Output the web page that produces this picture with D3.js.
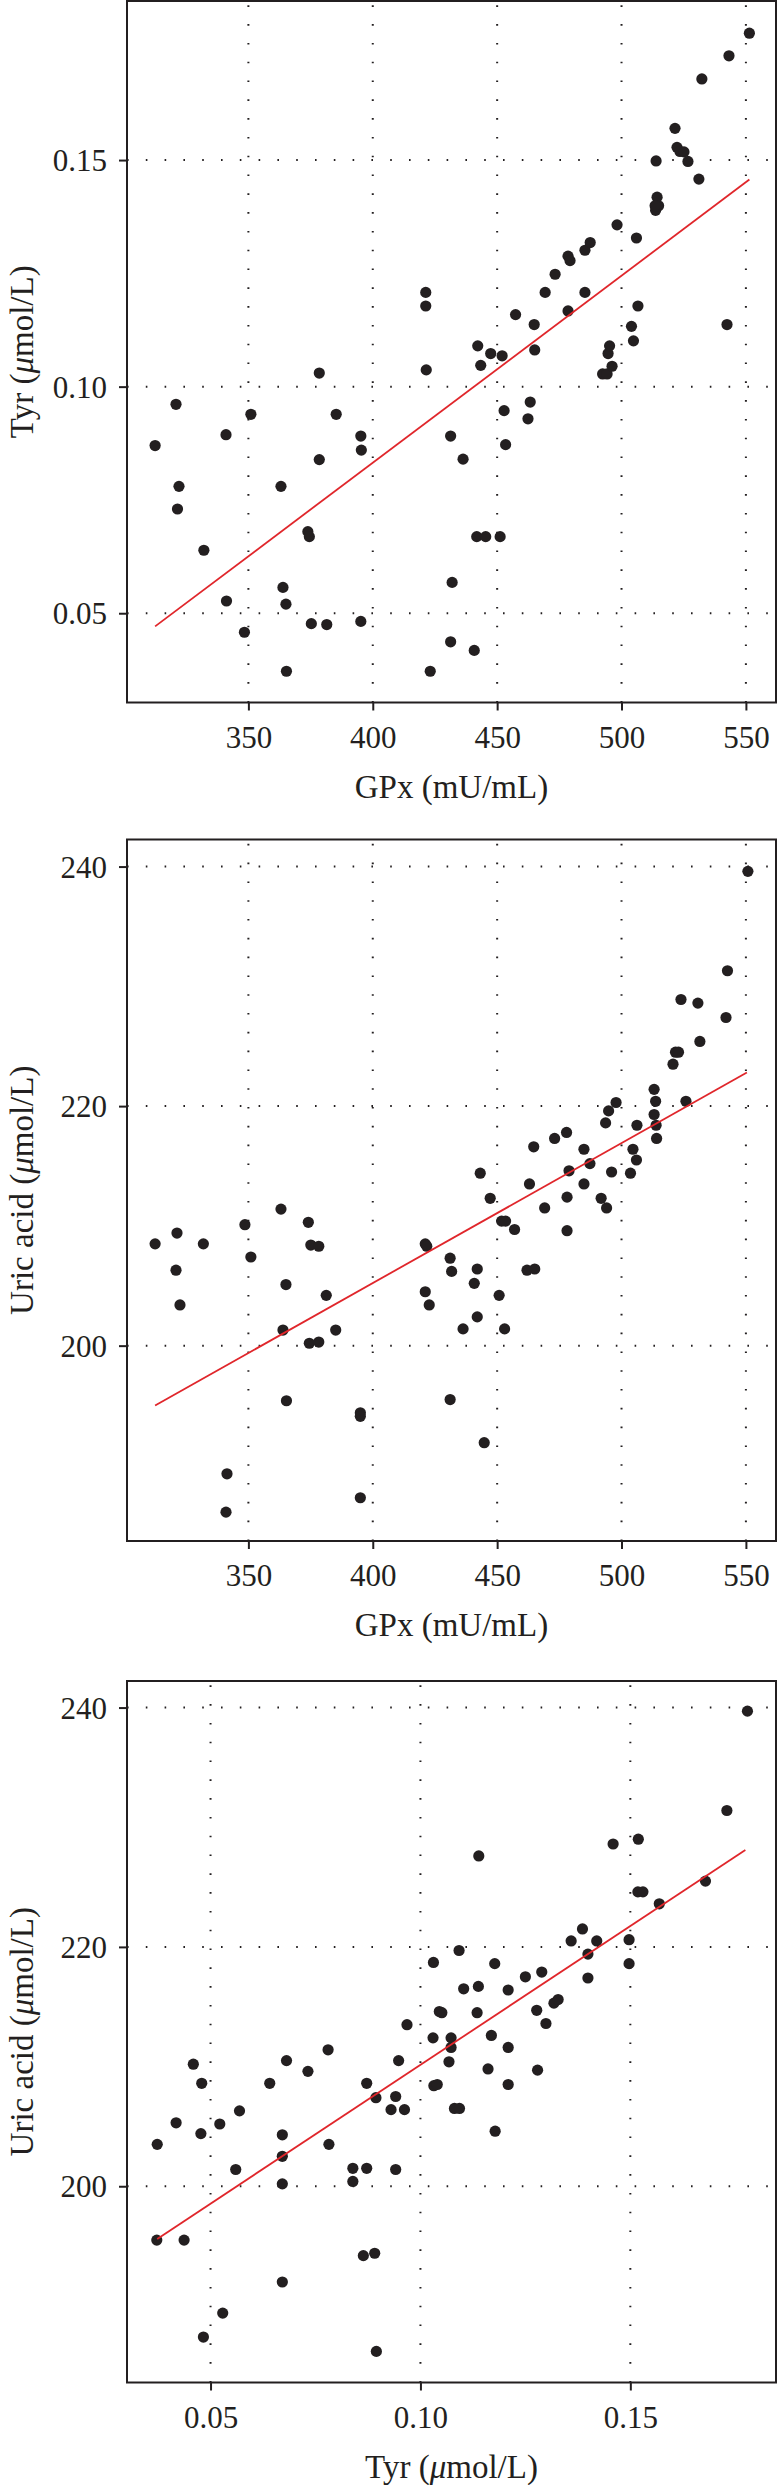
<!DOCTYPE html>
<meta charset="UTF-8">
<script src="https://d3js.org/d3.v7.min.js"></script>
<style>
  body { margin: 0; background: #fff; }
  text { font-family: "Liberation Serif", "DejaVu Serif", serif; fill: #231f20; }
</style>
<svg id="chart" width="777" height="2485"></svg>
<script>

// Panel 1: GPx vs Tyr
var gpx1 = [312.5, 320.9, 322.1, 321.5, 332.1, 341.0, 341.2, 348.4, 351.0, 363.1,
            363.9, 365.1, 365.3, 373.9, 374.5, 375.3, 378.5, 378.5, 381.5, 385.3,
            395.2, 395.4, 395.2, 421.3, 421.3, 421.5, 423.1, 431.3, 431.9, 431.3,
            436.3, 440.8, 442.2, 443.4, 441.8, 445.4, 447.4, 452.0, 452.8, 453.4,
            451.2, 457.4, 464.9, 465.1, 463.3, 462.4, 469.3, 473.3, 478.5, 479.3,
            478.5, 485.3, 487.4, 485.3, 498.2, 492.4, 494.2, 494.6, 495.2, 496.2,
            504.0, 504.8, 506.0, 506.6, 513.9, 514.3, 513.7, 514.9, 513.5, 521.5,
            522.3, 523.5, 525.1, 526.7, 531.1, 532.3, 542.4, 543.2, 551.4];
var tyr1 = [0.0870, 0.0961, 0.0780, 0.0730, 0.0639, 0.0894, 0.0527, 0.0458, 0.0939, 0.0780,
            0.0557, 0.0520, 0.0372, 0.0680, 0.0669, 0.0477, 0.1030, 0.0839, 0.0475, 0.0939,
            0.0891, 0.0860, 0.0482, 0.1208, 0.1178, 0.1037, 0.0372, 0.0891, 0.0568, 0.0437,
            0.0840, 0.0418, 0.1090, 0.1047, 0.0669, 0.0669, 0.1073, 0.1068, 0.0947, 0.0872,
            0.0669, 0.1159, 0.1137, 0.1081, 0.0966, 0.0929, 0.1208, 0.1248, 0.1288, 0.1278,
            0.1167, 0.1301, 0.1318, 0.1208, 0.1357, 0.1028, 0.1028, 0.1073, 0.1090, 0.1045,
            0.1133, 0.1101, 0.1328, 0.1178, 0.1498, 0.1418, 0.1389, 0.1399, 0.1399, 0.1570,
            0.1528, 0.1519, 0.1518, 0.1497, 0.1458, 0.1679, 0.1137, 0.1730, 0.1780];
var fit1 = [[312.5, 0.0471], [551.4, 0.1457]];

// Panel 2: GPx vs uric acid
var gpx2 = [312.5, 321.3, 320.9, 322.5, 331.9, 341.4, 341.0, 348.6, 351.0, 363.1,
            363.9, 365.1, 365.3, 374.1, 375.1, 378.3, 374.5, 378.3, 381.3, 385.1,
            395.0, 395.0, 395.0, 421.1, 421.7, 421.1, 422.7, 431.1, 431.7, 431.1,
            436.3, 440.8, 442.0, 442.0, 443.2, 444.8, 447.2, 450.8, 451.8, 453.4,
            453.0, 457.0, 463.0, 464.7, 462.0, 465.1, 469.1, 473.1, 477.9, 478.9,
            478.1, 478.1, 484.9, 487.3, 484.9, 491.8, 494.0, 493.6, 494.8, 496.0,
            497.8, 503.6, 504.6, 506.0, 506.2, 513.1, 513.7, 513.1, 513.9, 514.1,
            520.7, 521.7, 522.9, 523.9, 525.9, 530.7, 531.5, 542.0, 542.6, 550.8];
var ua2 = [208.5, 209.4, 206.3, 203.4, 208.5, 189.3, 186.1, 210.1, 207.4, 211.4,
           201.3, 205.1, 195.4, 210.3, 208.4, 208.3, 200.2, 200.3, 204.2, 201.3,
           194.4, 194.1, 187.3, 208.5, 208.3, 204.5, 203.4, 207.3, 206.2, 195.5,
           201.4, 205.2, 206.4, 202.4, 214.4, 191.9, 212.3, 204.2, 210.4, 210.4,
           201.4, 209.7, 213.5, 216.6, 206.3, 206.4, 211.5, 217.3, 217.8, 214.6,
           212.4, 209.6, 216.4, 215.2, 213.5, 212.3, 211.5, 218.6, 219.6, 214.5,
           220.3, 214.4, 216.4, 215.5, 218.4, 221.4, 220.4, 219.3, 218.4, 217.3,
           223.5, 224.5, 224.5, 228.9, 220.4, 228.6, 225.4, 227.4, 231.3, 239.6];
var fit2 = [[312.5, 195.0], [550.4, 222.8]];

// Panel 3: Tyr vs uric acid
var tyr3 = [0.0373, 0.0372, 0.0418, 0.0437, 0.0459, 0.0479, 0.0477, 0.0483, 0.0522, 0.0529,
            0.0560, 0.0569, 0.0641, 0.0671, 0.0671, 0.0671, 0.0671, 0.0681, 0.0732, 0.0780,
            0.0782, 0.0839, 0.0839, 0.0872, 0.0872, 0.0864, 0.0891, 0.0894, 0.0895, 0.0930,
            0.0941, 0.0948, 0.0941, 0.0962, 0.0968, 0.1031, 0.1030, 0.1032, 0.1040, 0.1045,
            0.1051, 0.1073, 0.1073, 0.1068, 0.1081, 0.1093, 0.1092, 0.1103, 0.1135, 0.1138,
            0.1139, 0.1161, 0.1169, 0.1177, 0.1178, 0.1209, 0.1209, 0.1209, 0.1250, 0.1277,
            0.1279, 0.1289, 0.1299, 0.1318, 0.1328, 0.1359, 0.1386, 0.1399, 0.1399, 0.1420,
            0.1459, 0.1497, 0.1497, 0.1519, 0.1518, 0.1530, 0.1569, 0.1679, 0.1730, 0.1779];
var ua3 = [203.5, 195.5, 205.3, 195.5, 210.2, 208.6, 204.4, 187.4, 205.2, 189.4,
           201.4, 206.3, 208.6, 204.3, 202.5, 200.2, 192.0, 210.5, 209.6, 211.4,
           203.5, 201.5, 200.4, 201.5, 208.6, 194.2, 194.4, 207.4, 186.2, 206.4,
           207.5, 210.5, 201.4, 206.4, 213.5, 218.7, 212.4, 208.4, 208.5, 214.6,
           214.5, 212.4, 211.6, 210.4, 206.5, 206.5, 219.7, 216.5, 214.5, 216.7,
           227.6, 209.8, 212.6, 218.6, 204.6, 216.4, 211.6, 208.5, 217.5, 214.7,
           209.7, 217.9, 213.6, 215.3, 215.6, 220.5, 221.5, 219.4, 217.4, 220.5,
           228.6, 220.6, 218.6, 229.0, 224.6, 224.6, 223.6, 225.5, 231.4, 239.7];
var fit3 = [[0.0373, 195.6], [0.1774, 228.1]];

var gpxTicks = [350, 400, 450, 500, 550];
var tyrTicks = [0.05, 0.10, 0.15];
var uaTicks = [200, 220, 240];

var svg = d3.select("#chart");
var ink = "#231f20";
var serif = '"Liberation Serif", "DejaVu Serif", serif';

var panels = [
  { xs: gpx1, ys: tyr1, fit: fit1, top: 1, bottom: 702.5,
    xDomain: [301.2, 562.1], yDomain: [0.0303, 0.1851],
    xTicks: gpxTicks, yTicks: tyrTicks, xFmt: d3.format("d"), yFmt: d3.format(".2f"),
    xTitle: ["GPx (mU/mL)"], yTitle: ["Tyr (", "\u03bc", "mol/L)"] },
  { xs: gpx2, ys: ua2, fit: fit2, top: 839.5, bottom: 1541,
    xDomain: [301.2, 562.1], yDomain: [183.69, 242.26],
    xTicks: gpxTicks, yTicks: uaTicks, xFmt: d3.format("d"), yFmt: d3.format("d"),
    xTitle: ["GPx (mU/mL)"], yTitle: ["Uric acid (", "\u03bc", "mol/L)"] },
  { xs: tyr3, ys: ua3, fit: fit3, top: 1681, bottom: 2382.5,
    xDomain: [0.0301, 0.1847], yDomain: [183.6, 242.22],
    xTicks: tyrTicks, yTicks: uaTicks, xFmt: d3.format(".2f"), yFmt: d3.format("d"),
    xTitle: ["Tyr (", "\u03bc", "mol/L)"], yTitle: ["Uric acid (", "\u03bc", "mol/L)"] }
];

var left = 127, right = 776;

// writes a title, the μ part in italics
function addTitle(sel, parts) {
  parts.forEach(function(p, i) {
    sel.append("tspan").text(p).style("font-style", i == 1 ? "italic" : "normal");
  });
}

panels.forEach(function(p) {
  var x = d3.scaleLinear().domain(p.xDomain).range([left, right]);
  var y = d3.scaleLinear().domain(p.yDomain).range([p.bottom, p.top]);
  var g = svg.append("g");

  // dotted grid
  g.selectAll(".hgrid").data(p.yTicks).enter().append("line")
    .attr("x1", left).attr("x2", right)
    .attr("y1", function(d) { return y(d); }).attr("y2", function(d) { return y(d); })
    .attr("stroke", ink).attr("stroke-width", 2)
    .attr("stroke-dasharray", "1.6,17.2");
  g.selectAll(".vgrid").data(p.xTicks).enter().append("line")
    .attr("x1", function(d) { return x(d); }).attr("x2", function(d) { return x(d); })
    .attr("y1", p.bottom).attr("y2", p.top)
    .attr("stroke", ink).attr("stroke-width", 2)
    .attr("stroke-dasharray", "1.6,17.2");

  // axes: ticks + labels outside the frame
  var xAxis = d3.axisBottom(x).tickValues(p.xTicks).tickFormat(p.xFmt)
    .tickSizeInner(8).tickSizeOuter(0).tickPadding(8);
  var yAxis = d3.axisLeft(y).tickValues(p.yTicks).tickFormat(p.yFmt)
    .tickSizeInner(8).tickSizeOuter(0).tickPadding(12);

  var gx = g.append("g").attr("transform", "translate(0," + p.bottom + ")").call(xAxis);
  var gy = g.append("g").attr("transform", "translate(" + left + ",0)").call(yAxis);
  [gx, gy].forEach(function(a) {
    a.attr("font-family", serif).attr("font-size", 31);
    a.select(".domain").remove();
    a.selectAll(".tick line").attr("stroke", ink).attr("stroke-width", 2);
    a.selectAll(".tick text").attr("fill", ink);
  });
  gx.selectAll(".tick text").attr("dy", null).attr("y", 45);
  gy.selectAll(".tick text").attr("dy", "0.34em");

  // frame
  g.append("rect")
    .attr("x", left).attr("y", p.top)
    .attr("width", right - left).attr("height", p.bottom - p.top)
    .attr("fill", "none").attr("stroke", ink).attr("stroke-width", 2);

  // points
  g.selectAll("circle").data(p.xs).enter().append("circle")
    .attr("cx", function(d) { return x(d); })
    .attr("cy", function(d, i) { return y(p.ys[i]); })
    .attr("r", 5.6)
    .attr("fill", ink);

  // regression line
  g.append("path")
    .datum(p.fit)
    .attr("d", d3.line().x(function(d) { return x(d[0]); }).y(function(d) { return y(d[1]); }))
    .attr("fill", "none").attr("stroke", "#e0262b").attr("stroke-width", 1.8);

  // axis titles
  var xt = g.append("text")
    .attr("x", (left + right) / 2).attr("y", p.bottom + 95)
    .attr("text-anchor", "middle").style("font-size", "33px");
  addTitle(xt, p.xTitle);

  var yt = g.append("text")
    .attr("transform", "translate(33," + (p.top + p.bottom) / 2 + ") rotate(-90)")
    .attr("text-anchor", "middle").style("font-size", "33px");
  addTitle(yt, p.yTitle);
});

</script>
